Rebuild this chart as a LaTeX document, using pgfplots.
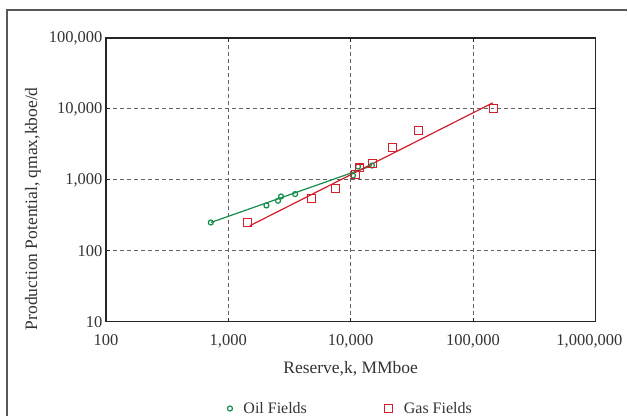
\documentclass[border=0pt]{standalone}
\usepackage{pgfplots}
\pgfplotsset{compat=1.18}
\usepackage{fontspec}
\setmainfont{Liberation Serif}
\definecolor{oilgreen}{RGB}{20,140,75}
\definecolor{gasred}{RGB}{210,30,40}
\definecolor{gridgray}{RGB}{100,100,100}
\begin{document}
\begin{tikzpicture}
\begin{axis}[
    name=ax,
    scale only axis,
    width=490pt, height=284pt,
    xmode=log, ymode=log,
    xmin=100, xmax=1000000,
    ymin=10, ymax=100000,
    xtick={100,1000,10000,100000,1000000},
    xticklabels={100,{1,000},{10,000},{100,000},{\hspace*{-12pt}1,000,000}},
    ytick={10,100,1000,10000,100000},
    yticklabels={10,100,{1,000},{10,000},{100,000}},
    xminorticks=false, yminorticks=false,
    grid=major,
    major grid style={gridgray, line width=0.8pt, dash pattern=on 4pt off 3pt},
    axis line style={black!85, line width=1.6pt},
    tick style={black!85, line width=0.8pt},
    major tick length=4pt,
    tick label style={font=\fontsize{16.5}{18}\selectfont, text=black!80},
    xticklabel style={yshift=-9pt},
    label style={font=\fontsize{17.5}{19}\selectfont, text=black!80},
    xlabel={Reserve,k, MMboe},
    ylabel={Production Potential, qmax,kboe/d},
    xlabel style={at={(axis description cs:0.5,0)}, anchor=center, yshift=-47pt},
    ylabel style={at={(axis description cs:0,0.5)}, anchor=center, yshift=73pt, xshift=-29pt},
    legend columns=2,
    legend style={at={(axis description cs:0.5,-0.306)}, anchor=center,
        draw=none, fill=none, font=\fontsize{16}{18}\selectfont, text=black!80,
        /tikz/every odd column/.append style={column sep=9pt},
        /tikz/every even column/.append style={column sep=76pt}},
    legend cell align=left,
    clip=false,
]
% fitted trend lines
\addplot[oilgreen, line width=1.2pt, forget plot] coordinates {(720,250) (14900,1580)};
\addplot[gasred, line width=1.2pt, forget plot] coordinates {(1500,225) (145000,12170)};
% oil fields
\addplot[only marks, mark=o, mark size=2.5pt, oilgreen, mark options={line width=1.2pt}] coordinates {
    (720,250) (2050,435) (2550,506) (2700,582) (3520,630)
    (10450,1150) (11490,1538) (14930,1589)
};
\addlegendentry{Oil Fields}
% gas fields
\addplot[only marks, mark=square, mark size=4pt, gasred, mark options={line width=1.1pt}] coordinates {
    (1440,248) (4760,545) (7480,755) (10900,1175) (11900,1470)
    (15030,1718) (22100,2820) (35900,4900) (146000,10000)
};
\addlegendentry{Gas Fields}
\end{axis}
\draw[black!65, line width=1.3pt]
    ([shift={(-99pt,-94pt)}]ax.south west) -- ([shift={(-99pt,28pt)}]ax.north west)
    -- ([shift={(32pt,28pt)}]ax.north east);
\path ([shift={(-106pt,-94pt)}]ax.south west) rectangle ([shift={(32pt,38pt)}]ax.north east);
\end{tikzpicture}
\end{document}
